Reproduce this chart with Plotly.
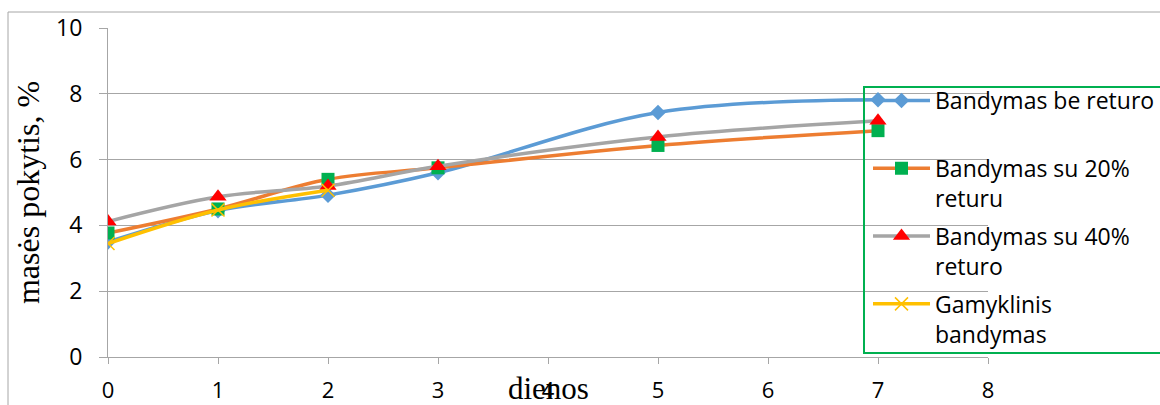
import plotly.graph_objects as go

days = [0, 1, 2, 3, 5, 7]
be_returo = [3.5, 4.45, 4.92, 5.6, 7.43, 7.82]
su_20 = [3.77, 4.5, 5.4, 5.75, 6.43, 6.88]
su_40 = [4.12, 4.87, 5.2, 5.8, 6.69, 7.18]
gamyklinis_days = [0, 1, 2]
gamyklinis = [3.45, 4.47, 5.07]

names = ["Bandymas be returo<br> ", "Bandymas su 20%<br>returu",
         "Bandymas su 40%<br>returo", "Gamyklinis<br>bandymas"]
y_ticks = [0, 2, 4, 6, 8, 10]
x_ticks = [0, 1, 2, 3, 4, 5, 6, 7, 8]

GRID = "#a6a6a6"
W_PLOT = 880.0
H_PLOT = 329.0


def px_x(p):
    return (p - 108) / W_PLOT


def px_y(p):
    return (357 - p) / H_PLOT


fig = go.Figure()
fig.add_trace(go.Scatter(x=days, y=be_returo, name=names[0], mode="lines+markers", legendgroup="a",
                         line=dict(color="#5B9BD5", width=3.5, shape="spline"),
                         marker=dict(symbol="diamond", size=12, color="#5B9BD5")))
fig.add_trace(go.Scatter(x=days, y=su_20, name=names[1], mode="lines+markers", legendgroup="b",
                         line=dict(color="#ED7D31", width=3.5, shape="spline"),
                         marker=dict(symbol="square", size=13, color="#00B050")))
fig.add_trace(go.Scatter(x=days, y=su_40, name=names[2], mode="lines+markers", legendgroup="c",
                         line=dict(color="#A5A5A5", width=3.5, shape="spline"),
                         marker=dict(symbol="triangle-up", size=15, color="#FF0000")))
fig.add_trace(go.Scatter(x=gamyklinis_days, y=gamyklinis, name=names[3], mode="lines+markers",
                         legendgroup="d",
                         line=dict(color="#FFC000", width=3.5, shape="spline"),
                         marker=dict(symbol="x-thin", size=13, color="#FFC000",
                                     line=dict(color="#FFC000", width=1.5))))

fig.update_layout(
    width=1160, height=405,
    margin=dict(l=108, r=172, t=28, b=48, autoexpand=False),
    paper_bgcolor="white", plot_bgcolor="white",
    font=dict(family="Open Sans", size=22, color="black"),
    showlegend=True,
    legend=dict(x=px_x(868), y=px_y(79), xanchor="left", yanchor="top",
                bgcolor="rgba(0,0,0,0)", borderwidth=0,
                font=dict(family="Open Sans", size=23, color="black"),
                valign="top", itemwidth=57, tracegroupgap=5, groupclick="toggleitem"),
    xaxis=dict(range=[0, 8], tickvals=x_ticks, ticks="outside", ticklen=6, tickcolor=GRID,
               showgrid=False, showline=True, linecolor=GRID, linewidth=1, zeroline=False,
               tickfont=dict(family="Open Sans", size=22), ticklabelstandoff=8,
               automargin=False),
    yaxis=dict(range=[0, 10], tickvals=y_ticks, ticks="outside", ticklen=8, tickcolor=GRID,
               showgrid=True, gridcolor=GRID, gridwidth=1, showline=True, linecolor=GRID,
               zeroline=False, tickfont=dict(family="Open Sans", size=23), ticklabelstandoff=12,
               automargin=False,
               title=dict(text="masės pokytis, %", font=dict(family="Liberation Serif", size=32),
                          standoff=6)),
)

fig.add_annotation(text="dienos", x=4, xref="x", y=px_y(388), yref="paper", yanchor="middle",
                   showarrow=False, font=dict(family="Liberation Serif", size=31, color="black"))

# chart area border
fig.add_shape(type="rect", xref="paper", yref="paper",
              x0=px_x(8), x1=px_x(1200), y0=px_y(420), y1=px_y(12),
              line=dict(color=GRID, width=1), fillcolor="rgba(0,0,0,0)", layer="below")
# legend border
fig.add_shape(type="rect", xref="paper", yref="paper",
              x0=px_x(864), x1=px_x(1175), y0=px_y(353), y1=px_y(87),
              line=dict(color="#00B050", width=2), fillcolor="rgba(0,0,0,0)", layer="above")

fig.write_html("out.html")
